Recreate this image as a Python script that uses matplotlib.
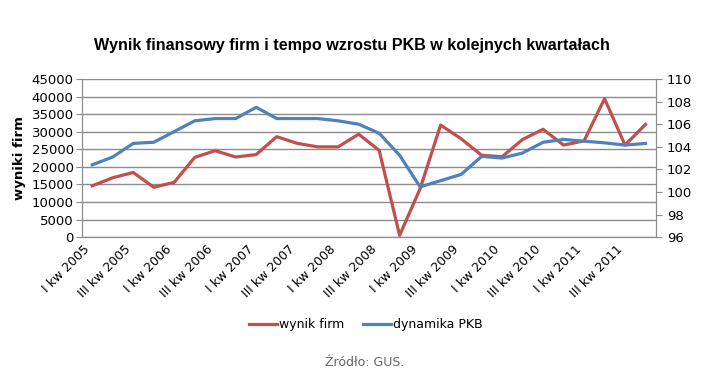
import matplotlib.pyplot as plt

# kwartały I kw 2005 - IV kw 2011
quarters = [f"{q} kw {y}" for y in range(2005, 2012) for q in ["I", "II", "III", "IV"]]

wynik_firm = [14600, 16900, 18400, 14200, 15600, 22700, 24600, 22800, 23500, 28600,
              26700, 25700, 25700, 29300, 24700, 500, 13800, 31900, 28000, 23300,
              22900, 27800, 30700, 26200, 27400, 39400, 26200, 32100]

dynamika_pkb = [102.4, 103.1, 104.3, 104.4, 105.35, 106.3, 106.5, 106.5, 107.5, 106.5,
                106.5, 106.5, 106.3, 106.0, 105.2, 103.25, 100.45, 101.0, 101.55, 103.15,
                103.0, 103.45, 104.4, 104.65, 104.5, 104.35, 104.15, 104.3]

red = "#C0504D"
blue = "#4F81BD"
grid_c = "#8C8C8C"

fig = plt.figure(figsize=(7.04, 3.8), dpi=100)
ax = fig.add_axes([0.1165, 0.376, 0.815, 0.416])
ax2 = ax.twinx()

x = list(range(len(quarters)))
l1, = ax.plot(x, wynik_firm, color=red, lw=2.3, label="wynik firm", zorder=3)
l2, = ax2.plot(x, dynamika_pkb, color=blue, lw=2.3, label="dynamika PKB", zorder=3)

ax.set_ylim(0, 45000)
ax.set_yticks(range(0, 45001, 5000))
ax2.set_ylim(96, 110)
ax2.set_yticks(range(96, 111, 2))
ax.set_xlim(-0.5, len(quarters) - 0.5)

ax.set_xticks(x[::2])
ax.set_xticklabels(quarters[::2], rotation=45, ha="right", fontsize=9)
ax.tick_params(axis="x", length=0, pad=4)
ax.tick_params(axis="y", labelsize=9.5, length=4, color=grid_c, pad=2)
ax2.tick_params(axis="y", labelsize=9.5, length=4, color=grid_c, pad=4)

ax.yaxis.grid(True, color=grid_c, lw=1)
ax.set_axisbelow(True)
for a in (ax, ax2):
    a.spines["top"].set_visible(False)
    for s in ("left", "right", "bottom"):
        a.spines[s].set_color(grid_c)
ax.set_ylabel("wyniki firm", fontsize=9.5, fontweight="bold", labelpad=4)

fig.text(0.5, 0.88, "Wynik finansowy firm i tempo wzrostu PKB w kolejnych kwartałach",
         ha="center", va="center", fontsize=11.6, fontweight="bold", family="Liberation Sans")

fig.legend(handles=[l1, l2], loc="center", bbox_to_anchor=(0.52, 0.145), ncol=2,
           frameon=False, fontsize=9, handlelength=2.2, columnspacing=1.5, handletextpad=0.2)

fig.text(0.518, 0.047, "Źródło: GUS.", ha="center", va="center", fontsize=9, color="#666666")

fig.savefig("out.png", dpi=100)
